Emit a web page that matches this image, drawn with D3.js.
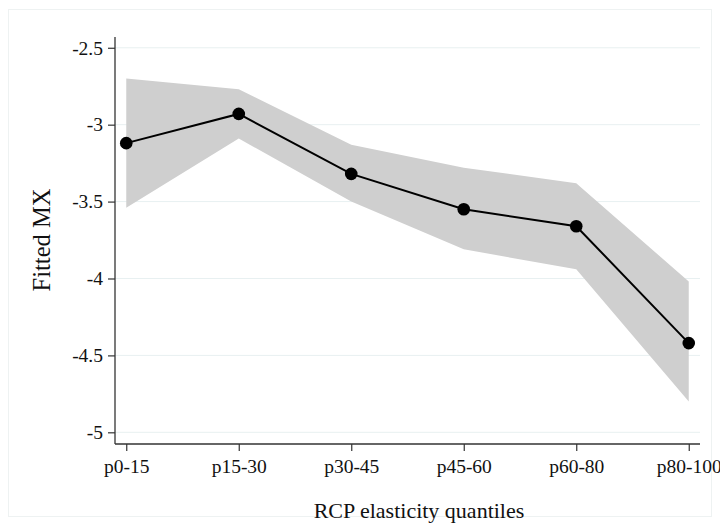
<!DOCTYPE html>
<html>
  <head>
    <meta charset="utf-8" />
    <title>Fitted MX by RCP elasticity quantiles</title>
    <style>
      body {
        margin: 0;
        background: #fff;
      }

      text {
        font-family: "Liberation Serif", "Times New Roman", serif;
        fill: #111;
      }

      .band {
        fill: #cfcfcf;
        stroke: none;
      }

      .line {
        fill: none;
        stroke: #000;
        stroke-width: 2px;
      }

      .grid line {
        stroke: #e8f0f1;
        stroke-width: 1px;
      }
    </style>
  </head>
  <body>
    <svg width="720" height="525"></svg>

    <script src="https://d3js.org/d3.v7.min.js"></script>
    <script>
      // Data
      const quantiles = ["p0-15", "p15-30", "p30-45", "p45-60", "p60-80", "p80-100"];
      const fitted = [-3.12, -2.93, -3.32, -3.55, -3.66, -4.42];
      const upper = [-2.70, -2.77, -3.13, -3.28, -3.38, -4.02];
      const lower = [-3.54, -3.09, -3.50, -3.81, -3.94, -4.80];
      const yTicks = [-2.5, -3, -3.5, -4, -4.5, -5];

      const svg = d3.select("svg");

      // outer frame of the graph region
      svg
        .append("rect")
        .attr("x", 8.5)
        .attr("y", 9.5)
        .attr("width", 703)
        .attr("height", 507)
        .attr("fill", "none")
        .attr("stroke", "#eef2f2");

      const plotLeft = 115,
        plotRight = 700,
        plotTop = 37,
        plotBottom = 444;

      const x = d3
        .scaleLinear()
        .domain([-0.1, quantiles.length - 0.9])
        .range([plotLeft, plotRight]);

      const y = d3
        .scaleLinear()
        .domain([-5.076, -2.43])
        .range([plotBottom, plotTop]);

      // Gridlines
      svg
        .append("g")
        .attr("class", "grid")
        .selectAll("line")
        .data(yTicks)
        .join("line")
        .attr("x1", plotLeft)
        .attr("x2", plotRight)
        .attr("y1", (d) => y(d))
        .attr("y2", (d) => y(d));

      // Confidence band
      const idx = d3.range(quantiles.length);
      svg
        .append("path")
        .attr("class", "band")
        .attr(
          "d",
          d3
            .area()
            .x((i) => x(i))
            .y0((i) => y(lower[i]))
            .y1((i) => y(upper[i]))(idx)
        );

      // Fitted line and markers
      svg
        .append("path")
        .attr("class", "line")
        .attr(
          "d",
          d3
            .line()
            .x((i) => x(i))
            .y((i) => y(fitted[i]))(idx)
        );

      svg
        .append("g")
        .selectAll("circle")
        .data(idx)
        .join("circle")
        .attr("cx", (i) => x(i))
        .attr("cy", (i) => y(fitted[i]))
        .attr("r", 6.3)
        .attr("fill", "#000");

      // Axes
      const yAxis = d3
        .axisLeft(y)
        .tickValues(yTicks)
        .tickSize(7)
        .tickPadding(5)
        .tickFormat((d) => String(d));

      const yg = svg
        .append("g")
        .attr("transform", `translate(${plotLeft},0)`)
        .call(yAxis);

      const xAxis = d3
        .axisBottom(x)
        .tickValues(idx)
        .tickSize(7)
        .tickPadding(8)
        .tickFormat((i) => quantiles[i]);

      const xg = svg
        .append("g")
        .attr("transform", `translate(0,${plotBottom})`)
        .call(xAxis);

      [yg, xg].forEach((g) => {
        g.select(".domain").attr("stroke", "#333").attr("stroke-width", 1.3);
        g.selectAll(".tick line").attr("stroke", "#333").attr("stroke-width", 1.2);
        g.selectAll(".tick text")
          .attr("font-family", "Liberation Serif")
          .attr("font-size", 19.5)
          .attr("fill", "#111");
      });

      // flat domain ends, no outer ticks
      yg.select(".domain").attr("d", `M0,${plotTop}V${plotBottom}`);
      xg.select(".domain").attr("d", `M${plotLeft},0H${plotRight}`);

      // Axis titles
      svg
        .append("text")
        .attr("x", 419)
        .attr("y", 518)
        .attr("text-anchor", "middle")
        .attr("font-size", 22)
        .text("RCP elasticity quantiles");

      svg
        .append("text")
        .attr("transform", "translate(50,240) rotate(-90)")
        .attr("text-anchor", "middle")
        .attr("font-size", 24.5)
        .text("Fitted MX");
    </script>
  </body>
</html>
